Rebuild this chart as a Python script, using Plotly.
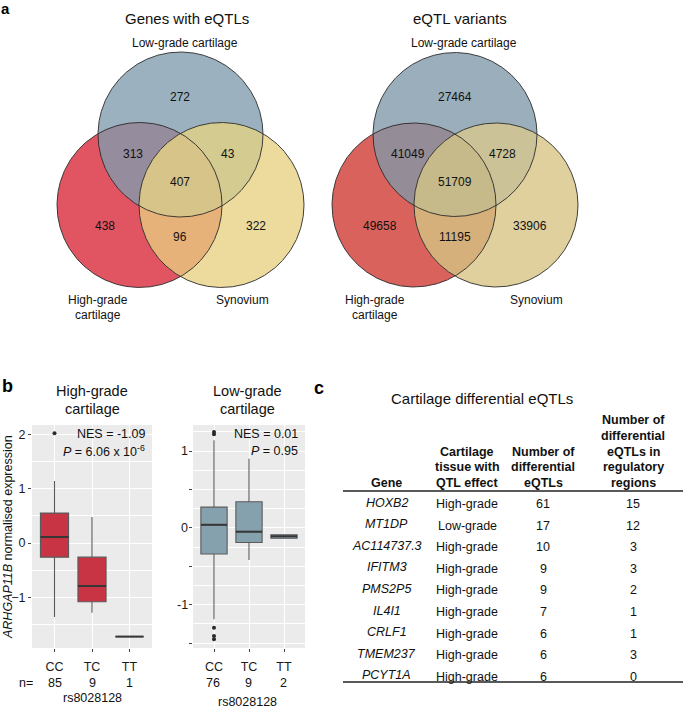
import numpy as np
import plotly.graph_objects as go

W, H = 685, 712
FONT = "Liberation Sans, Arial, sans-serif"

# ---------------- DATA ----------------
venn_set_names = ["Low-grade cartilage", "High-grade cartilage", "Synovium"]
# region order: A only, B only, C only, AB, AC, BC, ABC  (A=low, B=high, C=synovium)
venn_regions = ["A", "B", "C", "AB", "AC", "BC", "ABC"]
gene_counts = [272, 438, 322, 313, 43, 96, 407]
variant_counts = [27464, 49658, 33906, 41049, 4728, 11195, 51709]

genotypes = ["CC", "TC", "TT"]
hg_n = [85, 9, 1]
hg_q1 = [-0.26, -1.08, -1.72]
hg_med = [0.11, -0.79, -1.72]
hg_q3 = [0.55, -0.26, -1.72]
hg_lo = [-1.36, -1.28, -1.72]
hg_hi = [1.14, 0.48, -1.72]
hg_out_x = [0]
hg_out_y = [2.02]

lg_n = [76, 9, 2]
lg_q1 = [-0.34, -0.19, -0.135]
lg_med = [0.04, -0.05, -0.11]
lg_q3 = [0.27, 0.34, -0.09]
lg_lo = [-1.19, -0.42, -0.135]
lg_hi = [1.14, 0.90, -0.09]
lg_out_x = [0, 0, 0, 0, 0]
lg_out_y = [1.22, 1.25, -1.30, -1.41, -1.45]

hg_yticks = [-1, 0, 1, 2]
lg_yticks = [-1, 0, 1]

hg_stats = ["NES = -1.09", "<i>P</i> = 6.06 x 10<sup>-6</sup>"]
lg_stats = ["NES = 0.01", "<i>P</i> = 0.95"]

tbl_genes = ["HOXB2", "MT1DP", "AC114737.3", "IFITM3", "PMS2P5", "IL4I1", "CRLF1", "TMEM237", "PCYT1A"]
tbl_tissue = ["High-grade", "Low-grade", "High-grade", "High-grade", "High-grade",
              "High-grade", "High-grade", "High-grade", "High-grade"]
tbl_ndiff = [61, 17, 10, 9, 9, 7, 6, 6, 6]
tbl_nreg = [15, 12, 3, 3, 2, 1, 1, 3, 0]

# ---------------- HELPERS ----------------
def px(x):
    return x / W

def py(y):
    return 1 - y / H

annotations = []
shapes = []

def ann(x, y, text, size=12, bold=False, xanchor="center", color="#111", angle=0):
    if bold:
        text = "<b>" + text + "</b>"
    annotations.append(dict(x=px(x), y=py(y), xref="paper", yref="paper", text=text,
                            showarrow=False, xanchor=xanchor, yanchor="middle",
                            textangle=angle,
                            font=dict(family=FONT, size=size, color=color)))

fig = go.Figure()

# ---------------- VENN ----------------
def circ(c, r, n=1500):
    t = np.linspace(0, 2 * np.pi, n, endpoint=False)
    return c[0] + r * np.cos(t), c[1] + r * np.sin(t)

def inter_poly(circles, idx):
    xs, ys = [], []
    for i in idx:
        cx, cy = circ(circles[i][0], circles[i][1])
        ok = np.ones_like(cx, dtype=bool)
        for j in idx:
            if j == i:
                continue
            (c2, r2) = circles[j]
            ok &= (cx - c2[0]) ** 2 + (cy - c2[1]) ** 2 <= r2 ** 2 + 1e-6
        xs.append(cx[ok]); ys.append(cy[ok])
    xs = np.concatenate(xs); ys = np.concatenate(ys)
    mx, my = xs.mean(), ys.mean()
    order = np.argsort(np.arctan2(ys - my, xs - mx))
    xs, ys = xs[order], ys[order]
    return np.append(xs, xs[0]), np.append(ys, ys[0])

def venn(circles, colors, counts, label_pos):
    layers = [([0], colors["A"]), ([1], colors["B"]), ([2], colors["C"]),
              ([0, 1], colors["AB"]), ([0, 2], colors["AC"]), ([1, 2], colors["BC"]),
              ([0, 1, 2], colors["ABC"])]
    for idx, col in layers:
        xs, ys = inter_poly(circles, idx)
        fig.add_trace(go.Scatter(x=xs, y=ys, mode="lines", fill="toself", fillcolor=col,
                                 line=dict(width=0, color=col), xaxis="x4", yaxis="y4",
                                 hoverinfo="skip", showlegend=False))
    for c, r in circles:
        xs, ys = circ(c, r)
        fig.add_trace(go.Scatter(x=np.append(xs, xs[0]), y=np.append(ys, ys[0]), mode="lines",
                                 line=dict(width=0.9, color="#2a2a2a"), xaxis="x4", yaxis="y4",
                                 hoverinfo="skip", showlegend=False))
    for reg, val in zip(venn_regions, counts):
        x, y = label_pos[reg]
        ann(x, y, str(val), 12)

r1 = 82.5
circles1 = [((180.5, 134.5), r1), ((139.5, 205), r1), ((221.5, 205), r1)]
cols1 = dict(A="#9bb1bf", B="#e15563", C="#ecdb9c", AB="#958c9e", AC="#d3cb90",
             BC="#e7b279", ABC="#d6c488")
pos1 = dict(A=(180, 97), B=(105, 226), C=(256, 226), AB=(133, 154), AC=(228, 154),
            BC=(180, 237), ABC=(180, 182))
venn(circles1, cols1, gene_counts, pos1)

r2 = 82
circles2 = [((455, 134.5), r2), ((414, 205), r2), ((496, 205), r2)]
cols2 = dict(A="#9aaebb", B="#d9625c", C="#dfd09e", AB="#948c96", AC="#cbc397",
             BC="#d6b07a", ABC="#c7ba8a")
pos2 = dict(A=(455, 97), B=(380, 226), C=(530, 226), AB=(408, 154), AC=(502, 154),
            BC=(455, 237), ABC=(455, 182))
venn(circles2, cols2, variant_counts, pos2)

ann(187, 18, "Genes with eQTLs", 15)
ann(185, 43, venn_set_names[0], 12)
ann(98, 300, "High-grade", 12)
ann(98, 315, "cartilage", 12)
ann(242, 300, venn_set_names[2], 12)

ann(460, 18, "eQTL variants", 15)
ann(464, 43, venn_set_names[0], 12)
ann(375, 300, "High-grade", 12)
ann(375, 315, "cartilage", 12)
ann(536, 300, venn_set_names[2], 12)

# ---------------- BOXPLOTS ----------------
def boxpanel(xa, ya, q1, med, q3, lo, hi, outx, outy, fill):
    xpos = list(range(len(genotypes)))
    fig.add_trace(go.Box(x=xpos, q1=q1, median=med, q3=q3, lowerfence=lo, upperfence=hi,
                         width=0.75, fillcolor=fill, line=dict(color="#5a5a5a", width=1.1),
                         whiskerwidth=0, boxpoints=False, xaxis=xa, yaxis=ya,
                         hoverinfo="skip", showlegend=False))
    mx, my = [], []
    for i, m in enumerate(med):
        mx += [i - 0.375, i + 0.375, None]
        my += [m, m, None]
    fig.add_trace(go.Scatter(x=mx, y=my, mode="lines", line=dict(color="#363636", width=2),
                             xaxis=xa, yaxis=ya, hoverinfo="skip", showlegend=False))
    fig.add_trace(go.Scatter(x=outx, y=outy, mode="markers",
                             marker=dict(color="#2a2a2a", size=4), xaxis=xa, yaxis=ya,
                             hoverinfo="skip", showlegend=False))

boxpanel("x2", "y2", hg_q1, hg_med, hg_q3, hg_lo, hg_hi, hg_out_x, hg_out_y, "#c93444")
boxpanel("x3", "y3", lg_q1, lg_med, lg_q3, lg_lo, lg_hi, lg_out_x, lg_out_y, "#85a1ae")

for xr, yr in [("x2 domain", "y2 domain"), ("x3 domain", "y3 domain")]:
    shapes.append(dict(type="rect", xref=xr, yref=yr, x0=0, x1=1, y0=0, y1=1,
                       fillcolor="#ebebeb", line=dict(width=0), layer="below"))

# y tick labels for the right panel (only the integer breaks are labelled)
for v in lg_yticks:
    annotations.append(dict(x=px(190), y=v, xref="paper", yref="y3", text=str(v),
                            showarrow=False, xanchor="right", yanchor="middle",
                            font=dict(family=FONT, size=12.5, color="#1a1a1a")))

axis_common = dict(showline=False, zeroline=False, gridcolor="white", gridwidth=1.1,
                   ticks="outside", ticklen=3, tickcolor="#444", tickwidth=1,
                   tickfont=dict(family=FONT, size=12.5, color="#1a1a1a"), fixedrange=True)

ann(92, 391, "High-grade", 14.5)
ann(92, 409, "cartilage", 14.5)
ann(247, 391, "Low-grade", 14.5)
ann(247, 409, "cartilage", 14.5)

ann(147, 434, hg_stats[0], 12.5, xanchor="right")
ann(147, 451, hg_stats[1], 12.5, xanchor="right")
ann(300, 434, lg_stats[0], 12.5, xanchor="right")
ann(300, 451, lg_stats[1], 12.5, xanchor="right")

ann(8, 537, "<i>ARHGAP11B</i> normalised expression", 12.5, angle=-90)

ann(26, 683, "n=", 12.5)
hg_xpx = [54.5, 92, 129.5]
lg_xpx = [213, 248, 283]
for i in range(3):
    ann(hg_xpx[i], 683, str(hg_n[i]), 12.5)
    ann(lg_xpx[i], 683, str(lg_n[i]), 12.5)
ann(92, 698, "rs8028128", 12.5)
ann(247, 702, "rs8028128", 12.5)

# ---------------- TABLE ----------------
ann(482, 398, "Cartilage differential eQTLs", 15)
ann(387, 483, "Gene", 12.5, bold=True)
for t, y in zip(["Cartilage", "tissue with", "QTL effect"], [452, 467, 483]):
    ann(467, y, t, 12.5, bold=True)
for t, y in zip(["Number of", "differential", "eQTLs"], [452, 467, 483]):
    ann(543, y, t, 12.5, bold=True)
for t, y in zip(["Number of", "differential", "eQTLs in", "regulatory", "regions"],
                [420, 436, 452, 467, 483]):
    ann(633, y, t, 12.5, bold=True)

row_y0, row_dy = 504, 21.6
for i in range(len(tbl_genes)):
    y = row_y0 + i * row_dy
    ann(387, y - 1.5, "<i>" + tbl_genes[i] + "</i>", 12.5)
    ann(467, y, tbl_tissue[i], 12.5)
    ann(543, y, str(tbl_ndiff[i]), 12.5)
    ann(633, y, str(tbl_nreg[i]), 12.5)

for y in [491, 682]:
    shapes.append(dict(type="line", xref="paper", yref="paper", x0=px(343), x1=px(683),
                       y0=py(y), y1=py(y), line=dict(color="#222", width=1.3)))

# panel letters
ann(5, 9, "a", 15, bold=True, color="#000")
ann(8, 386, "b", 18, bold=True, color="#000")
ann(319, 388, "c", 18, bold=True, color="#000")

# ---------------- LAYOUT ----------------
fig.update_layout(
    width=W, height=H, margin=dict(l=0, r=0, t=0, b=0),
    paper_bgcolor="white", plot_bgcolor="rgba(0,0,0,0)", showlegend=False,
    font=dict(family=FONT),
    xaxis2=dict(domain=[px(32), px(152)], range=[-0.6, 2.6], tickvals=[0, 1, 2],
                ticktext=genotypes, anchor="y2", ticklabelstandoff=4, **axis_common),
    yaxis2=dict(domain=[py(648), py(425)], range=[-1.93, 2.17], tickvals=hg_yticks,
                anchor="x2",
                minor=dict(tickvals=[-1.5, -0.5, 0.5, 1.5], showgrid=True,
                           gridcolor="white", gridwidth=0.5, ticks=""),
                **axis_common),
    xaxis3=dict(domain=[px(193), px(305)], range=[-0.6, 2.6], tickvals=[0, 1, 2],
                ticktext=genotypes, anchor="y3", ticklabelstandoff=4, **axis_common),
    yaxis3=dict(domain=[py(648), py(425)], range=[-1.565, 1.34],
                tickvals=[-1.5, -1, -0.5, 0, 0.5, 1], showticklabels=False,
                anchor="x3",
                minor=dict(tickvals=[-1.25, -0.75, -0.25, 0.25, 0.75, 1.25], showgrid=True,
                           gridcolor="white", gridwidth=0.5, ticks=""),
                **axis_common),
    xaxis4=dict(domain=[0, 1], range=[0, W], visible=False, fixedrange=True, anchor="y4"),
    yaxis4=dict(domain=[0, 1], range=[H, 0], visible=False, fixedrange=True, anchor="x4"),
    annotations=annotations, shapes=shapes,
)

fig.write_html("out.html", config={"displayModeBar": False},
               post_script="document.body.style.margin='0';document.body.style.overflow='hidden';")
